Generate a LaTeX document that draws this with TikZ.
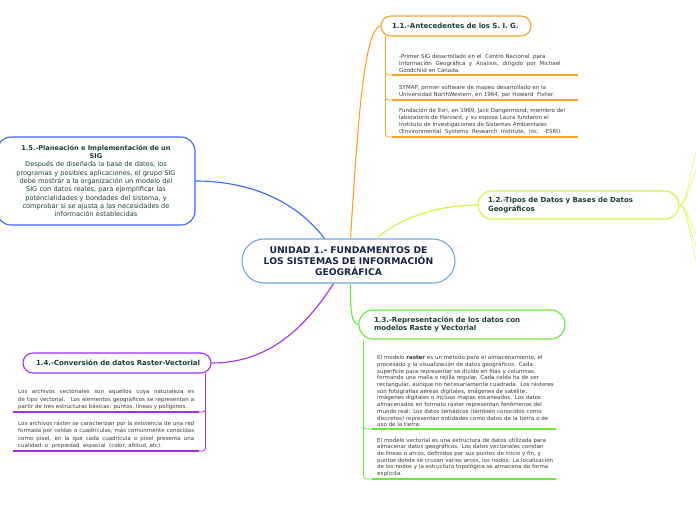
\documentclass[tikz,border=0pt]{standalone}
\usepackage{fontspec}
\setmainfont{DejaVu Sans}
\definecolor{navy1}{RGB}{22,36,72}
\definecolor{head1}{RGB}{24,66,46}
\definecolor{body1}{RGB}{60,60,60}
\definecolor{ctr1}{RGB}{112,168,220}
\definecolor{orange1}{RGB}{250,162,36}
\definecolor{lime1}{RGB}{218,242,60}
\definecolor{green1}{RGB}{102,236,52}
\definecolor{purple1}{RGB}{168,44,240}
\definecolor{blue1}{RGB}{52,102,250}

\begin{document}
\begin{tikzpicture}[x=1pt,y=-1pt,
  pill/.style={draw,line width=1.1pt,fill=white,inner ysep=0pt},
  head/.style={font=\fontsize{7}{8.4}\selectfont\bfseries,text=head1,align=left},
  body/.style={font=\fontsize{5.5}{7}\selectfont,text=body1,inner xsep=5pt,inner ysep=2pt,anchor=south west,align=left},
  branch/.style={line width=1.1pt},
  twig/.style={line width=0.8pt,rounded corners=3pt},
  uline/.style={line width=1.3pt},
  fanline/.style={lime1!80,line width=0.6pt}]

\fill[white] (0,0) rectangle (696,520);
\useasboundingbox (0,0) rectangle (696,520);
\clip (0,0) rectangle (696,520);

% central topic
\node[pill,draw=ctr1,rounded corners=22pt,minimum width=213pt,minimum height=44pt,text width=205pt,align=center,
  font=\fontsize{9.2}{11}\selectfont\bfseries,text=navy1] (unidad) at (348.5,261)
  {UNIDAD 1.- FUNDAMENTOS DE\\LOS SISTEMAS DE INFORMACIÓN\\GEOGRÁFICA};

% main topics
\node[pill,head,draw=orange1,rounded corners=10pt,minimum width=150pt,minimum height=20pt,text width=128pt,inner xsep=11pt] (antec) at (456,26)
  {1.1.-Antecedentes de los S. I. G.};
\node[pill,head,draw=lime1,rounded corners=14pt,minimum width=201pt,minimum height=28pt,text width=181pt,inner xsep=10pt] (tipos) at (578.5,205)
  {1.2.-Tipos de Datos y Bases de Datos\\Geográficos};
\node[pill,head,draw=green1,rounded corners=14pt,minimum width=206pt,minimum height=29pt,text width=176pt,inner xsep=15pt] (repres) at (462,324.5)
  {1.3.-Representación de los datos con\\modelos Raste y Vectorial};
\node[pill,head,draw=purple1,rounded corners=10pt,minimum width=188pt,minimum height=20pt,text width=162pt,inner xsep=13pt] (conver) at (117,363)
  {\mbox{1.4.-Conversión de datos Raster-Vectorial}};
\node[pill,draw=blue1,rounded corners=14pt,minimum width=198pt,minimum height=88pt,text width=196pt,inner xsep=1pt,align=center,
  font=\fontsize{6.6}{8.3}\selectfont,text=head1] (planea) at (96,181)
  {\textbf{1.5.-Planeación e Implementación de un}\\\textbf{SIG}\\
   Después de diseñada la base de datos, los\\programas y posibles aplicaciones, el grupo SIG\\
   debe mostrar a la organización un modelo del\\SIG con datos reales, para ejemplificar las\\
   potencialidades y bondades del sistema, y\\comprobar si se ajusta a las necesidades de\\
   información establecidas};

% branches
\draw[branch,blue1] ([xshift=-24pt]unidad.north) .. controls (292,196) and (242,181) .. (planea.east);
\draw[branch,orange1] ([xshift=2pt]unidad.north) .. controls (358,120) and (364,30) .. (antec.west);
\draw[branch,lime1] ([xshift=28pt]unidad.north) .. controls (405,214) and (445,205) .. (tipos.west);
\draw[branch,green1] ([xshift=2pt]unidad.south) .. controls (350,312) and (352,324.5) .. (repres.west);
\draw[branch,purple1] ([xshift=-15pt]unidad.south) .. controls (300,336) and (262,363) .. (conver.east);

% 1.1 notes
\node[body,text width=172pt,inner xsep=7pt] (ante1) at (392,75)
  {-Primer SIG desarrollado en el \ Centro Nacional \ para\\Información \ Geográfica \ y \ Análisis, \ dirigido \ por \ Michael\\Goodchild en Cánada.};
\node[body,text width=172pt,inner xsep=7pt] (ante2) at (392,100)
  {SYMAP, primer software de mapeo desarrollado en la\\Universidad NorthWestern, en 1964, por Howard \ Fisher.};
\node[body,text width=172pt,inner xsep=7pt] (ante3) at (392,137)
  {Fundación de Esri, en 1969, Jack Dangermond, miembro del\\laboratorio de Harvard, y su esposa Laura fundaron el\\Instituto de Investigaciones de Sistemas Ambientales\\(Environmental \ Systems \ Research \ Institute, \ Inc. \ -ESRI).};
\foreach \t in {ante1,ante2,ante3} {
  \draw[twig,orange1] ([xshift=5pt]antec.south west) |- (\t.south west);
  \draw[uline,orange1] (\t.south west) -- (\t.south east);
}

% 1.2 sub-branches (off the page)
\foreach \i/\y in {1/138,2/160,3/242,4/258,5/276} {
  \coordinate (fan\i) at (706,\y);
  \draw[fanline] (tipos.east) .. controls (690,205) and (692,\y) .. (fan\i);
}

% 1.3 notes
\node[body,text width=190pt,font=\fontsize{5.5}{6.7}\selectfont] (rep1) at (372,429)
  {El modelo \textbf{raster} es un método para el almacenamiento, el\\procesado y la visualización de datos geográficos. Cada\\superficie para representar se divide en filas y columnas,\\formando una malla o rejilla regular. Cada celda ha de ser\\rectangular, aunque no necesariamente cuadrada. Los rásteres\\son fotografías aéreas digitales, imágenes de satélite,\\imágenes digitales o incluso mapas escaneados. Los datos\\almacenados en formato ráster representan fenómenos del\\mundo real: Los datos temáticos (también conocidos como\\discretos) representan entidades como datos de la tierra o de\\uso de la tierra.};
\node[body,text width=190pt,font=\fontsize{5.5}{6.7}\selectfont] (rep2) at (372,479)
  {El modelo vectorial es una estructura de datos utilizada para\\almacenar datos geográficos. Los datos vectoriales constan\\de líneas o arcos, definidos por sus puntos de inicio y fin, y\\puntos donde se cruzan varios arcos, los nodos. La localización\\de los nodos y la estructura topológica se almacena de forma\\explícita.};
\foreach \t in {rep1,rep2} {
  \draw[twig,green1] ([xshift=5pt]repres.south west) |- (\t.south west);
  \draw[uline,green1] (\t.south west) -- ([xshift=-16pt]\t.south east);
}

% 1.4 notes
\node[body,text width=176pt,align=justify,font=\fontsize{5.5}{7.5}\selectfont] (conv1) at (13,412)
  {Los archivos vectoriales son aquellos cuya naturaleza es\linebreak de tipo vectorial. \ Los elementos geográficos se representan a\linebreak partir de tres estructuras básicas: puntos, líneas y polígonos.};
\node[body,text width=176pt,align=justify,font=\fontsize{5.5}{7.4}\selectfont] (conv2) at (13,451)
  {Los archivos ráster se caracterizan por la existencia de una red\linebreak formada por celdas o cuadrículas, más comúnmente conocidas\linebreak como píxel, en la que cada cuadrícula o píxel presenta una\linebreak cualidad \ o \ propiedad \ espacial \ (color, altitud, etc).};
\foreach \t in {conv1,conv2} {
  \draw[twig,purple1] ([xshift=-6pt]conver.south east) |- (\t.south east);
  \draw[uline,purple1] (\t.south east) -- (\t.south west);
}

\end{tikzpicture}
\end{document}
